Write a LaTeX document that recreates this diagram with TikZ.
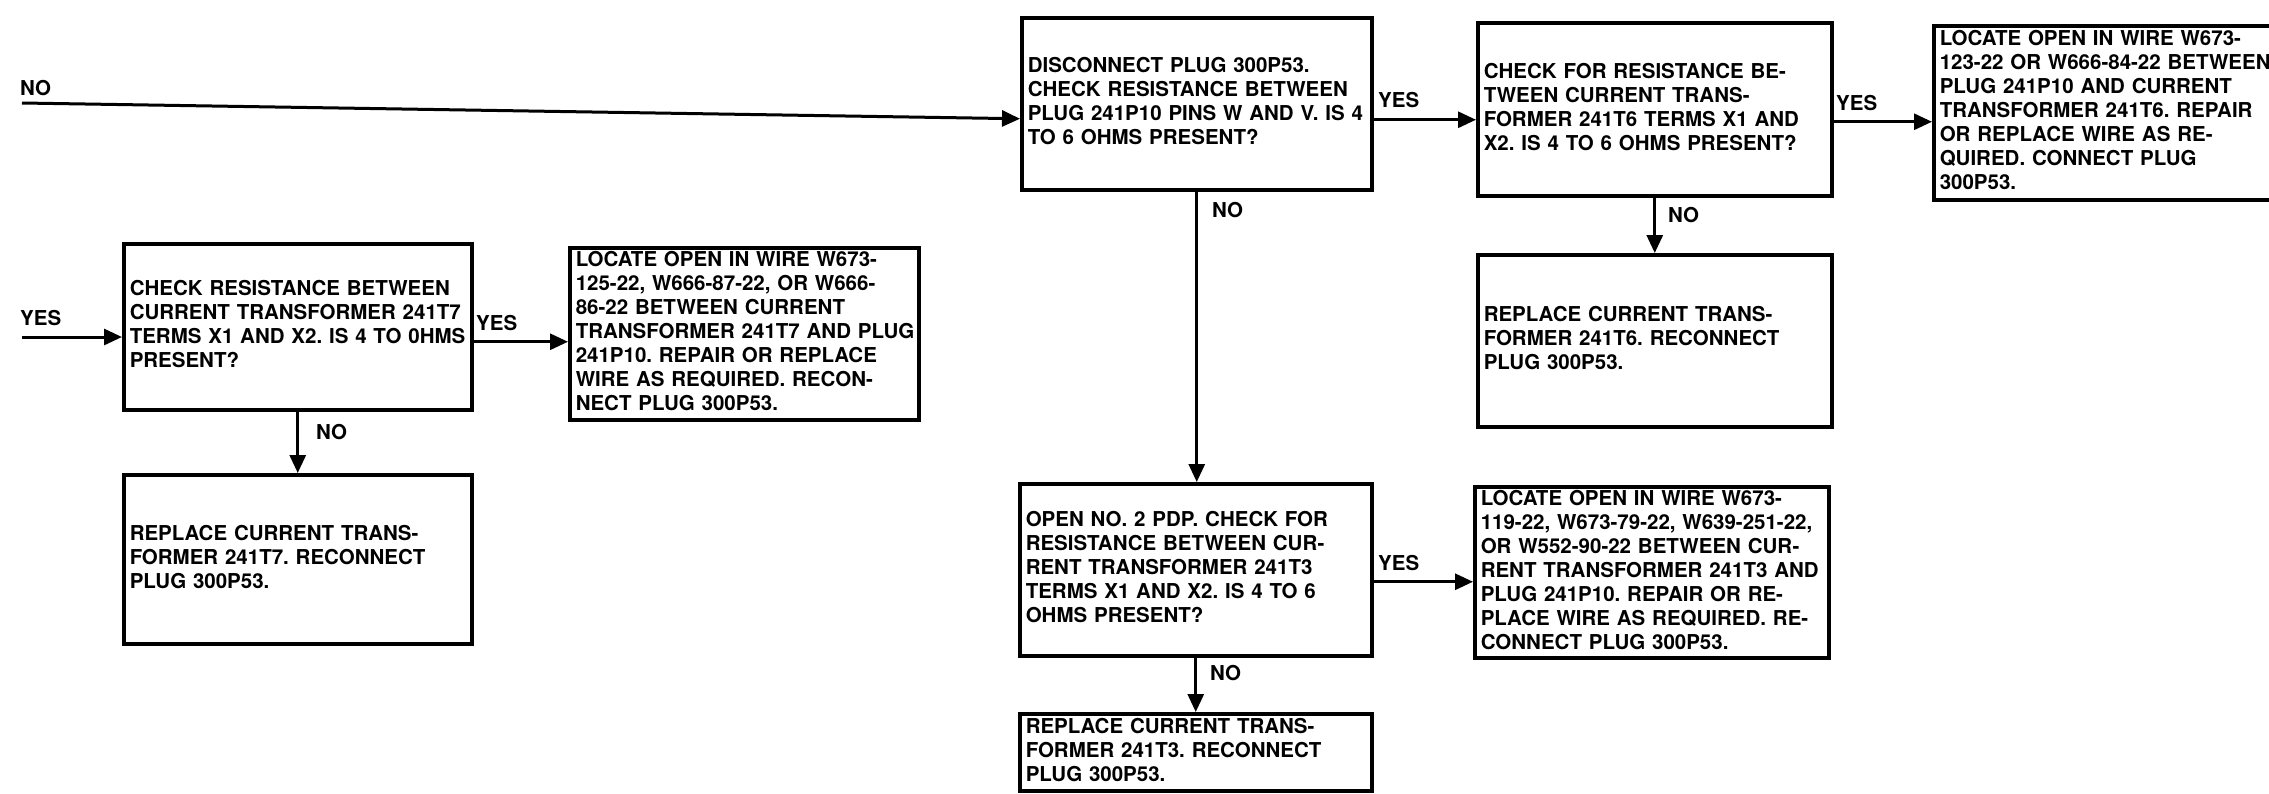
\documentclass[tikz,border=0pt]{standalone}
\usepackage{fontspec}
\setmainfont{TeX Gyre Heros}
\usetikzlibrary{arrows.meta,calc}
\frenchspacing
\newcommand{\boxlines}[1]{\begin{tabular}{@{}l@{}}#1\end{tabular}}
\begin{document}
\begin{tikzpicture}[x=1pt,y=-1pt,
  every node/.style={font=\fontsize{20.5}{24}\selectfont\bfseries},
  box/.style={draw, line width=3.5pt, rectangle, anchor=north west,
    inner xsep=6pt, inner ysep=0pt, align=left},
  conn/.style={line width=3pt},
  arr/.style={conn, -{Triangle[length=18pt,width=16pt]}},
  lbl/.style={anchor=west, inner sep=0pt}]
\useasboundingbox[fill=white] (0,0) rectangle (2269,793);

% boxes
\node[box, minimum width=350pt, minimum height=172pt, text width=338pt] (A) at (1020,16)
 {\boxlines{DISCONNECT PLUG 300P53.\\CHECK RESISTANCE BETWEEN\\PLUG 241P10 PINS W AND V. IS 4\\TO 6 OHMS PRESENT?}};
\node[box, minimum width=354pt, minimum height=173pt, text width=342pt] (B) at (1476,21)
 {\boxlines{CHECK FOR RESISTANCE BE-\\TWEEN CURRENT TRANS-\\FORMER 241T6 TERMS X1 AND\\X2. IS 4 TO 6 OHMS PRESENT?}};
\node[box, minimum width=362pt, minimum height=174pt, text width=350pt] (C) at (1932,24)
 {\boxlines{LOCATE OPEN IN WIRE W673-\\123-22 OR W666-84-22 BETWEEN\\PLUG 241P10 AND CURRENT\\TRANSFORMER 241T6. REPAIR\\OR REPLACE WIRE AS RE-\\QUIRED. CONNECT PLUG\\300P53.}};
\node[box, minimum width=354pt, minimum height=172pt, text width=342pt] (D) at (1476,253)
 {\boxlines{REPLACE CURRENT TRANS-\\FORMER 241T6. RECONNECT\\PLUG 300P53.}};
\node[box, minimum width=352pt, minimum height=172pt, text width=340pt] (E) at (1018,482)
 {\boxlines{OPEN NO. 2 PDP. CHECK FOR\\RESISTANCE BETWEEN CUR-\\RENT TRANSFORMER 241T3\\TERMS X1 AND X2. IS 4 TO 6\\OHMS PRESENT?}};
\node[box, minimum width=354pt, minimum height=171pt, text width=342pt] (F) at (1473,485)
 {\boxlines{LOCATE OPEN IN WIRE W673-\\119-22, W673-79-22, W639-251-22,\\OR W552-90-22 BETWEEN CUR-\\RENT TRANSFORMER 241T3 AND\\PLUG 241P10. REPAIR OR RE-\\PLACE WIRE AS REQUIRED. RE-\\CONNECT PLUG 300P53.}};
\node[box, minimum width=352pt, minimum height=77pt, text width=340pt] (G) at (1018,712)
 {\boxlines{REPLACE CURRENT TRANS-\\FORMER 241T3. RECONNECT\\PLUG 300P53.}};
\node[box, minimum width=348pt, minimum height=166pt, text width=336pt] (H) at (122,242)
 {\boxlines{CHECK RESISTANCE BETWEEN\\CURRENT TRANSFORMER 241T7\\TERMS X1 AND X2. IS 4 TO 0HMS\\PRESENT?}};
\node[box, minimum width=349pt, minimum height=172pt, text width=337pt] (I) at (568,246)
 {\boxlines{LOCATE OPEN IN WIRE W673-\\125-22, W666-87-22, OR W666-\\86-22 BETWEEN CURRENT\\TRANSFORMER 241T7 AND PLUG\\241P10. REPAIR OR REPLACE\\WIRE AS REQUIRED. RECON-\\NECT PLUG 300P53.}};
\node[box, minimum width=348pt, minimum height=169pt, text width=336pt] (J) at (122,473)
 {\boxlines{REPLACE CURRENT TRANS-\\FORMER 241T7. RECONNECT\\PLUG 300P53.}};

% free ends
\coordinate (noin) at (22,103);
\coordinate (yesin) at (22,337);

% connectors
\draw[arr] (noin) -- ([yshift=-15pt]A.west);
\draw[arr] ([yshift=-16pt]A.east) -- ([yshift=-16pt]A.east -| B.west);
\draw[arr] ([yshift=-12.5pt]B.east) -- ([yshift=-12.5pt]B.east -| C.west);
\draw[arr] (A.south) -- (A.south |- E.north);
\draw[arr] (B.south) -- (B.south |- D.north);
\draw[arr] ([yshift=-12pt]E.east) -- ([yshift=-12pt]E.east -| F.west);
\draw[arr] (E.south) -- (E.south |- G.north);
\draw[arr] (yesin) -- (yesin -| H.west);
\draw[arr] ([yshift=-15pt]H.east) -- ([yshift=-15pt]H.east -| I.west);
\draw[arr] (H.south) -- (H.south |- J.north);

% labels
\node[lbl] (l1) at (20,88) {NO};
\node[lbl] (l2) at (1378,100) {YES};
\node[lbl] (l3) at (1836,103) {YES};
\node[lbl] (l4) at (1212,210) {NO};
\node[lbl] (l5) at (1668,215) {NO};
\node[lbl] (l6) at (1378,563) {YES};
\node[lbl] (l7) at (1210,673) {NO};
\node[lbl] (l8) at (20,318) {YES};
\node[lbl] (l9) at (476,323) {YES};
\node[lbl] (l10) at (316,432) {NO};
\end{tikzpicture}
\end{document}
